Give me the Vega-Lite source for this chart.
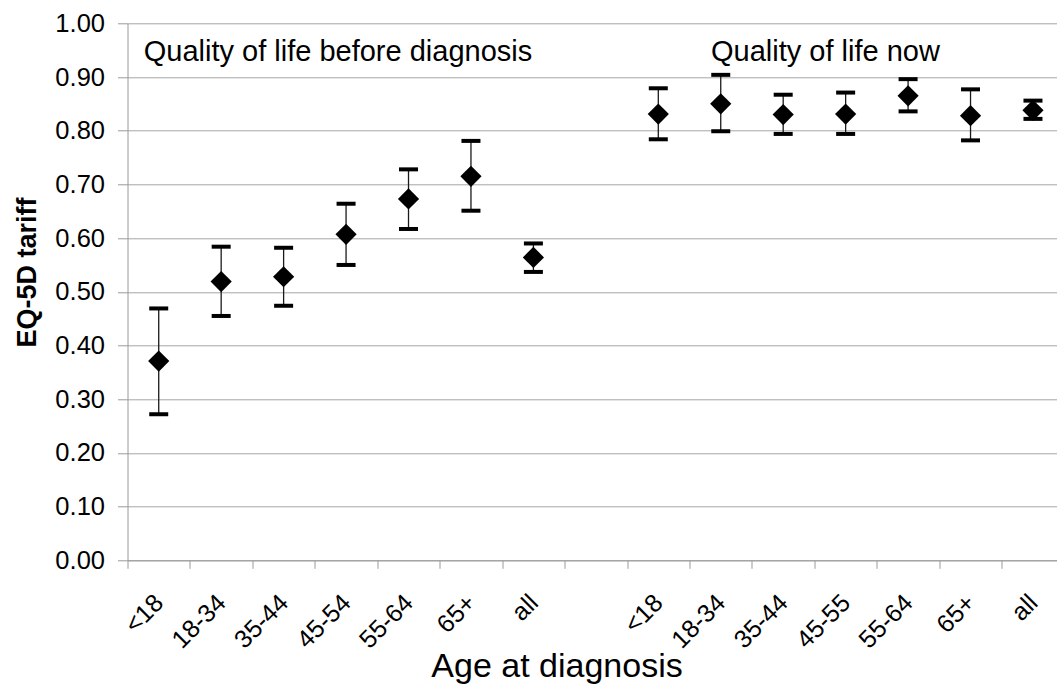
{
  "$schema": "https://vega.github.io/schema/vega-lite/v6.json",
  "autosize": {"type": "none"},
  "padding": {"left": 127.5, "top": 23.3, "right": 0, "bottom": 128.7},
  "width": 929.5,
  "height": 537,
  "background": "white",
  "config": {
    "font": "Liberation Sans",
    "view": {"stroke": null},
    "axis": {"labelColor": "black", "titleColor": "black"}
  },
  "datasets": {
    "points": [
      {"key": "a_<18", "value": 0.371, "lower": 0.272, "upper": 0.469},
      {"key": "a_18-34", "value": 0.519, "lower": 0.455, "upper": 0.584},
      {"key": "a_35-44", "value": 0.528, "lower": 0.474, "upper": 0.582},
      {"key": "a_45-54", "value": 0.607, "lower": 0.550, "upper": 0.664},
      {"key": "a_55-64", "value": 0.673, "lower": 0.617, "upper": 0.728},
      {"key": "a_65+", "value": 0.715, "lower": 0.651, "upper": 0.781},
      {"key": "a_all", "value": 0.564, "lower": 0.537, "upper": 0.590},
      {"key": "b_<18", "value": 0.831, "lower": 0.784, "upper": 0.879},
      {"key": "b_18-34", "value": 0.850, "lower": 0.799, "upper": 0.904},
      {"key": "b_35-44", "value": 0.830, "lower": 0.794, "upper": 0.867},
      {"key": "b_45-55", "value": 0.831, "lower": 0.794, "upper": 0.871},
      {"key": "b_55-64", "value": 0.865, "lower": 0.836, "upper": 0.896},
      {"key": "b_65+", "value": 0.828, "lower": 0.782, "upper": 0.877},
      {"key": "b_all", "value": 0.838, "lower": 0.822, "upper": 0.856}
    ],
    "notes": [
      {"group": "before", "key": "a_<18", "y": 0.93, "text": "Quality of life before diagnosis"},
      {"group": "now", "key": "b_<18", "y": 0.93, "text": "Quality of life now"}
    ]
  },
  "encoding": {
    "x": {
      "field": "key",
      "type": "nominal",
      "sort": null,
      "scale": {
        "domain": ["a_<18", "a_18-34", "a_35-44", "a_45-54", "a_55-64", "a_65+", "a_all", "gap", "b_<18", "b_18-34", "b_35-44", "b_45-55", "b_55-64", "b_65+", "b_all"],
        "range": [0, 936.7],
        "paddingInner": 0,
        "paddingOuter": 0
      },
      "axis": {
        "title": "Age at diagnosis",
        "titleFontSize": 34,
        "titleFontWeight": "normal",
        "titleX": 429,
        "titleY": 116.4,
        "titleBaseline": "alphabetic",
        "titleAnchor": null,
        "titleAlign": "center",
        "labelExpr": "(datum.value && datum.value != 'gap') ? substring(datum.value, 2) : ''",
        "labelAngle": -45,
        "labelAlign": "right",
        "labelBaseline": "middle",
        "labelFontSize": 25,
        "labelOffset": 0,
        "labelPadding": 30,
        "labelOverlap": false,
        "tickBand": "extent",
        "tickSize": 8,
        "tickColor": "#9a9a9a",
        "domainColor": "#9a9a9a",
        "grid": false
      }
    }
  },
  "layer": [
    {
      "data": {"name": "points"},
      "mark": {"type": "rule", "color": "#1a1a1a", "strokeWidth": 1.3},
      "encoding": {
        "y": {
          "field": "lower",
          "type": "quantitative",
          "title": "EQ-5D tariff",
          "scale": {"domain": [0, 1], "nice": false, "zero": true},
          "axis": {
            "title": "EQ-5D tariff",
            "titleFontSize": 27,
            "titleFontWeight": "bold",
            "titleAngle": -90,
            "titleX": -92.5,
            "titleY": 248.7,
            "titleAlign": "center",
            "titleBaseline": "alphabetic",
            "titleAnchor": null,
            "values": [0, 0.1, 0.2, 0.3, 0.4, 0.5, 0.6, 0.7, 0.8, 0.9, 1.0],
            "format": ".2f",
            "labelFontSize": 25.5,
            "labelPadding": 13,
            "tickSize": 10,
            "tickColor": "#9a9a9a",
            "domainColor": "#9a9a9a",
            "grid": true,
            "gridColor": "#a6a6a6",
            "gridWidth": 1
          }
        },
        "y2": {"field": "upper"}
      }
    },
    {
      "data": {"name": "points"},
      "mark": {"type": "tick", "color": "black", "size": 19, "thickness": 4, "opacity": 1},
      "encoding": {
        "y": {"field": "lower", "type": "quantitative", "title": "EQ-5D tariff"}
      }
    },
    {
      "data": {"name": "points"},
      "mark": {"type": "tick", "color": "black", "size": 19, "thickness": 4, "opacity": 1},
      "encoding": {
        "y": {"field": "upper", "type": "quantitative", "title": "EQ-5D tariff"}
      }
    },
    {
      "data": {"name": "points"},
      "mark": {"type": "point", "shape": "diamond", "filled": true, "color": "black", "size": 450, "opacity": 1},
      "encoding": {
        "y": {"field": "value", "type": "quantitative", "title": "EQ-5D tariff"}
      }
    },
    {
      "data": {"name": "notes"},
      "transform": [{"filter": "datum.group == 'before'"}],
      "mark": {"type": "text", "align": "left", "baseline": "alphabetic", "dx": -15, "fontSize": 29, "color": "black"},
      "encoding": {
        "y": {"field": "y", "type": "quantitative", "title": "EQ-5D tariff"},
        "text": {"field": "text"}
      }
    },
    {
      "data": {"name": "notes"},
      "transform": [{"filter": "datum.group == 'now'"}],
      "mark": {"type": "text", "align": "left", "baseline": "alphabetic", "dx": 52.7, "fontSize": 29, "color": "black"},
      "encoding": {
        "y": {"field": "y", "type": "quantitative", "title": "EQ-5D tariff"},
        "text": {"field": "text"}
      }
    }
  ]
}
